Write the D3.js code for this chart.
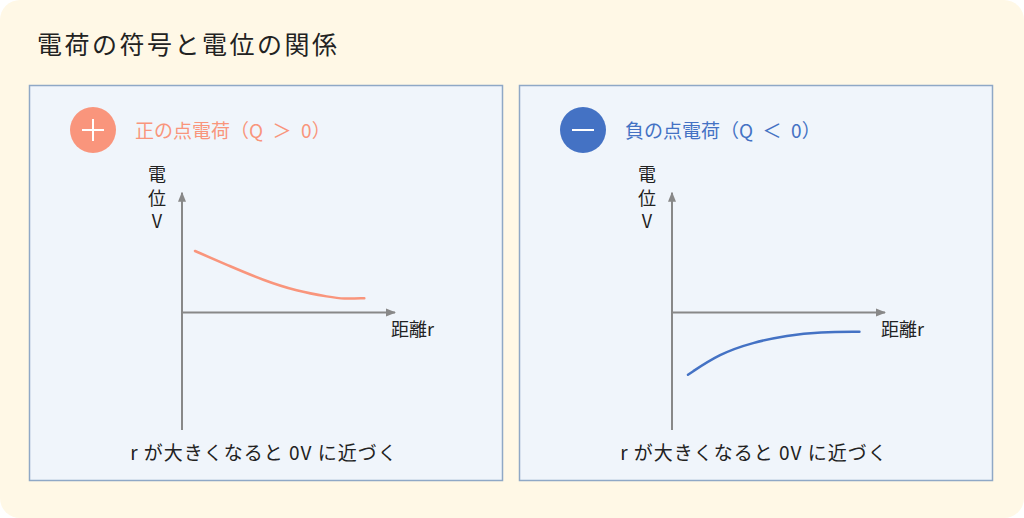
<!DOCTYPE html>
<html>
<head>
<meta charset="utf-8">
<script src="https://cdn.jsdelivr.net/npm/d3@7"></script>
<style>
  body { margin: 0; background: #fff; }
  text { font-family: "Noto Sans CJK JP", "Noto Sans", sans-serif; }
</style>
</head>
<body>
<div class="chart"></div>
<script>
// chart data
const title = "電荷の符号と電位の関係"
const panelTitles = ["正の点電荷（Q\u2002＞\u20020）", "負の点電荷（Q\u2002＜\u20020）"]
const panelSigns = ["+", "−"]
const panelColors = ["#f9957c", "#4472c4"]
const yLabelChars = ["電", "位", "V"]
const xLabel = "距離r"
const note = "r が大きくなると 0V に近づく"

// distance r and potential V
const rPositive = [0.61, 2.25, 3.82, 5.38, 6.95, 7.57, 8.56]
const vPositive = [2.67, 2.01, 1.40, 0.93, 0.67, 0.59, 0.62]
const rNegative = [0.75, 2.25, 3.8, 5.4, 6.95, 8.8]
const vNegative = [-2.7, -1.78, -1.3, -0.99, -0.84, -0.84]

const W = 1024, H = 518

const svg = d3.select(".chart")
  .append("svg")
  .attr("width", W)
  .attr("height", H)

// cream card behind everything
svg.append("rect")
  .attr("x", 0).attr("y", 0)
  .attr("width", W).attr("height", H)
  .attr("rx", 20)
  .attr("fill", "#fff8e6")

svg.append("text")
  .attr("x", 37).attr("y", 54)
  .attr("font-size", "25px")
  .attr("letter-spacing", "2.5px")
  .attr("fill", "#222")
  .text(title)

svg.append("defs").append("marker")
  .attr("id", "arrow")
  .attr("viewBox", "0 0 10 10")
  .attr("refX", 9).attr("refY", 5)
  .attr("markerWidth", 5).attr("markerHeight", 5)
  .attr("orient", "auto")
  .append("path")
  .attr("d", "M0,1 L10,5 L0,9 Z")
  .attr("fill", "#888")

const panels = [
  {r: rPositive, v: vPositive},
  {r: rNegative, v: vNegative}
]

panels.forEach((p, i) => {
  const g = svg.append("g")
    .attr("transform", `translate(${i * 490},0)`)

  g.append("rect")
    .attr("x", 29.5).attr("y", 85.5)
    .attr("width", 473).attr("height", 395)
    .attr("fill", "#f0f5fb")
    .attr("stroke", "#8fa8c6")
    .attr("stroke-width", 1.5)

  // sign badge
  g.append("circle")
    .attr("cx", 93).attr("cy", 130).attr("r", 23)
    .attr("fill", panelColors[i])
  g.append("line")
    .attr("x1", 82).attr("x2", 104)
    .attr("y1", 130).attr("y2", 130)
    .attr("stroke", "#fff").attr("stroke-width", 2)
  if (panelSigns[i] == "+") {
    g.append("line")
      .attr("x1", 93).attr("x2", 93)
      .attr("y1", 119).attr("y2", 141)
      .attr("stroke", "#fff").attr("stroke-width", 2)
  }

  g.append("text")
    .attr("x", 135).attr("y", 138)
    .attr("font-size", "19px")
    .attr("fill", panelColors[i])
    .text(panelTitles[i])

  const x = d3.scaleLinear().domain([0, 10]).range([182, 395])
  const y = d3.scaleLinear().domain([-5.1, 5.1]).range([430, 195])

  // axes
  g.append("line")
    .attr("x1", x(0)).attr("x2", x(0))
    .attr("y1", y(-5.1)).attr("y2", y(5.2))
    .attr("stroke", "#888").attr("stroke-width", 2)
    .attr("marker-end", "url(#arrow)")
  g.append("line")
    .attr("x1", x(0)).attr("x2", x(10))
    .attr("y1", y(0)).attr("y2", y(0))
    .attr("stroke", "#888").attr("stroke-width", 2)
    .attr("marker-end", "url(#arrow)")

  g.selectAll(".ylab")
    .data(yLabelChars)
    .join("text")
    .attr("class", "ylab")
    .attr("x", 157)
    .attr("y", (d, j) => 181 + j * 23.5)
    .attr("text-anchor", "middle")
    .attr("font-size", "18px")
    .attr("fill", "#222")
    .text(d => d)

  g.append("text")
    .attr("x", 391).attr("y", 336)
    .attr("font-size", "18px")
    .attr("fill", "#222")
    .text(xLabel)

  const line = d3.line()
    .x(d => x(d[0]))
    .y(d => y(d[1]))
    .curve(d3.curveBasis)

  g.append("path")
    .datum(p.r.map((r, j) => [r, p.v[j]]))
    .attr("d", line)
    .attr("fill", "none")
    .attr("stroke", panelColors[i])
    .attr("stroke-width", 2.5)
    .attr("stroke-linecap", "round")

  g.append("text")
    .attr("x", 264).attr("y", 460)
    .attr("text-anchor", "middle")
    .attr("font-size", "19px")
    .attr("letter-spacing", "1px")
    .attr("fill", "#222")
    .text(note)
})
</script>
</body>
</html>
